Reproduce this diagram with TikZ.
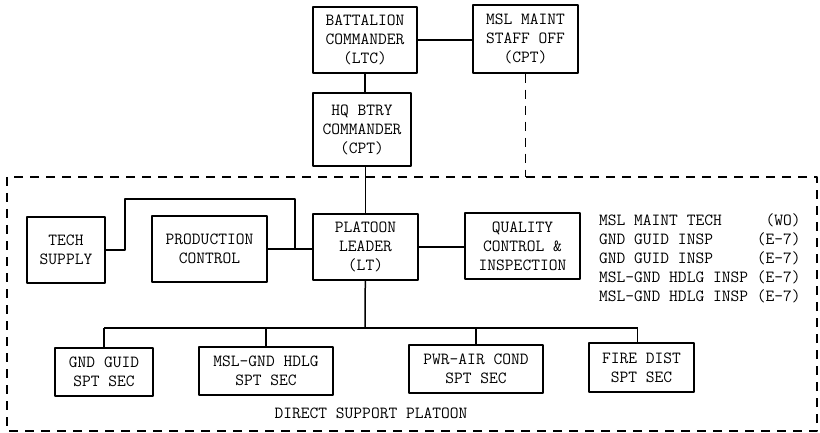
\documentclass[tikz,border=0pt]{standalone}
\usetikzlibrary{calc}
\begin{document}
\begin{tikzpicture}[x=1pt,y=-1pt,line join=round,
		font=\ttfamily\fontsize{17}{19}\selectfont,
		unit/.style={draw,line width=1.5pt,align=center,inner sep=0pt},
		link/.style={line width=1.5pt},
		border/.style={line width=1.5pt,dash pattern=on 9pt off 7pt}]
			\useasboundingbox (0,0) rectangle (820,433);
			% command level
			\node[unit,minimum width=104,minimum height=66] (btn) at (365,40) {BATTALION\\COMMANDER\\(LTC)};
			\node[unit,minimum width=105,minimum height=68] (msl) at (525.5,39) {MSL MAINT\\STAFF OFF\\(CPT)};
			\node[unit,minimum width=98,minimum height=73] (hq) at (362,129.5) {HQ BTRY\\COMMANDER\\(CPT)};
			% platoon
			\node[unit,minimum width=78,minimum height=66] (tech) at (66,250) {TECH\\SUPPLY};
			\node[unit,minimum width=115,minimum height=66] (prod) at (209.5,249) {PRODUCTION\\CONTROL};
			\node[unit,minimum width=105,minimum height=66] (plt) at (365.5,247) {PLATOON\\LEADER\\(LT)};
			\node[unit,minimum width=115,minimum height=66] (qc) at (522.5,246) {QUALITY\\CONTROL \&\\INSPECTION};
			\node[anchor=west,inner sep=0pt] (staff) at (599,260) {\begin{tabular}{@{}l@{\ }r@{}}
				MSL MAINT TECH & (WO)\\
				GND GUID INSP & (E-7)\\
				GND GUID INSP & (E-7)\\
				MSL-GND HDLG INSP & (E-7)\\
				MSL-GND HDLG INSP & (E-7)
			\end{tabular}};
			% sections
			\node[unit,minimum width=98,minimum height=48] (gnd) at (104,372) {GND GUID\\SPT SEC};
			\node[unit,minimum width=134,minimum height=48] (hdlg) at (266,371) {MSL-GND HDLG\\SPT SEC};
			\node[unit,minimum width=134,minimum height=48] (pwr) at (476,369) {PWR-AIR COND\\SPT SEC};
			\node[unit,minimum width=105,minimum height=49] (fire) at (641.5,367.5) {FIRE DIST\\SPT SEC};
			\node (dsp) at (371,413) {DIRECT SUPPORT PLATOON};
			% frame of the platoon
			\coordinate (bnw) at (7,177);
			\coordinate (bse) at (817,431);
			\draw[border] (bnw) rectangle (bse);
			% connectors
			\draw[link] (btn.east) -- (btn.east -| msl.west);
			\draw[border] (msl.south) -- (msl.south |- bnw);
			\draw[link] (btn.south) -- (btn.south |- hq.north);
			\draw[link] (hq.south -| plt.north) -- (plt.north);
			\coordinate (jn) at (295,249);
			\draw[link] (prod.east) -- (prod.east -| plt.west);
			\draw[link] (tech.east) -- ++(19,0) -- ++(0,-51) -| (jn);
			\draw[link] (plt.east) -- (plt.east -| qc.west);
			\coordinate (bus) at (365,328);
			\draw[link] (plt) -- (bus);
			\draw[link] (gnd.north |- bus) -- ([xshift=-4]fire.north |- bus);
			\foreach \s in {gnd,hdlg,pwr}
				\draw[link] (\s.north) -- (\s.north |- bus);
			\draw[link] ([xshift=-4]fire.north) -- ([xshift=-4]fire.north |- bus);
		\end{tikzpicture}
\end{document}
